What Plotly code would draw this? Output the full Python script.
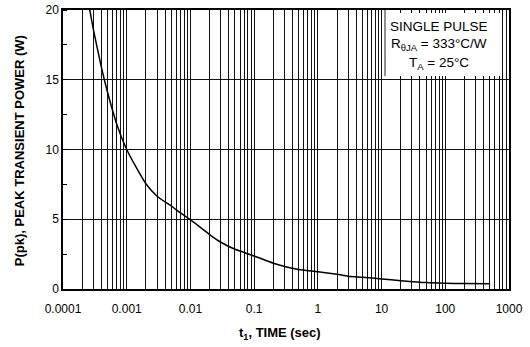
import plotly.graph_objects as go

# Data
time_s = [0.00024, 0.0003, 0.0004, 0.0005, 0.0007, 0.001, 0.0015, 0.002, 0.003,
          0.005, 0.007, 0.01, 0.015, 0.02, 0.03, 0.05, 0.1, 0.2, 0.3, 0.5,
          1, 2, 3, 5, 10, 20, 50, 100, 200, 500]
peak_power_w = [21.0, 18.6, 15.9, 14.1, 11.8, 10.0, 8.5, 7.55, 6.65,
                5.95, 5.45, 4.95, 4.35, 3.9, 3.35, 2.85, 2.37, 1.85, 1.62, 1.4,
                1.24, 1.05, 0.92, 0.84, 0.72, 0.6, 0.46, 0.41, 0.39, 0.38]

x_tickvals = [0.0001, 0.001, 0.01, 0.1, 1, 10, 100, 1000]
x_ticktext = ["0.0001", "0.001", "0.01", "0.1", "1", "10", "100", "1000"]
y_tickvals = [0, 5, 10, 15, 20]

x_title = "<b>t<sub>1</sub>, TIME (sec)</b>"
y_title = "<b>P(pk), PEAK TRANSIENT POWER (W)</b>"
legend_lines = ["SINGLE PULSE", "R<sub>θJA</sub> = 333°C/W", "T<sub>A</sub> = 25°C"]

FONT = "Arial, Liberation Sans, sans-serif"

fig = go.Figure()
fig.add_trace(go.Scatter(
    x=time_s, y=peak_power_w, mode="lines",
    line=dict(color="black", width=1.5, shape="spline", smoothing=0.6),
    showlegend=False, hoverinfo="skip",
))

fig.update_layout(
    width=530, height=347,
    margin=dict(l=63, r=21, t=10, b=58),
    paper_bgcolor="white", plot_bgcolor="white",
    font=dict(family=FONT, size=12, color="black"),
    showlegend=False,
)

fig.update_xaxes(
    type="log", range=[-4, 3], automargin=False,
    tickvals=x_tickvals, ticktext=x_ticktext,
    ticks="", showgrid=True, gridcolor="#111", gridwidth=1,
    minor=dict(dtick="D1", showgrid=True, gridcolor="#111", gridwidth=1, ticks=""),
    showline=True, linecolor="black", linewidth=1.5, mirror=True,
    zeroline=False,
    tickfont=dict(size=12, family=FONT),
    ticklabelstandoff=8,
)

fig.update_yaxes(
    range=[0, 20], tickvals=y_tickvals, automargin=False,
    ticks="", showgrid=True, gridcolor="#111", gridwidth=1,
    minor=dict(dtick=2.5, ticks="inside", ticklen=4, tickcolor="black", showgrid=False),
    showline=True, linecolor="black", linewidth=1.5, mirror=True,
    zeroline=False,
    tickfont=dict(size=12, family=FONT),
    ticklabelstandoff=0,
)

# Axis titles
fig.add_annotation(text=x_title, xref="paper", yref="paper", x=0.487, y=-0.158,
                   showarrow=False, xanchor="center", yanchor="middle",
                   font=dict(size=13, family=FONT, color="black"))
fig.add_annotation(text=y_title, xref="paper", yref="paper", x=-0.0957, y=0.495,
                   showarrow=False, xanchor="center", yanchor="middle", textangle=-90,
                   font=dict(size=13, family=FONT, color="black"))

# White legend box in the upper-right corner
fig.add_shape(type="rect", xref="paper", yref="paper",
              x0=0.722, x1=0.984, y0=0.763, y1=0.989,
              fillcolor="white", line=dict(width=0), layer="above")
fig.add_shape(type="line", xref="paper", yref="paper",
              x0=0.722, x1=0.722, y0=0.763, y1=1.0,
              line=dict(color="#222", width=1), layer="above")

for txt, yp in zip(legend_lines, [0.942, 0.877, 0.808]):
    fig.add_annotation(text=txt, xref="paper", yref="paper", x=0.843, y=yp,
                       showarrow=False, xanchor="center", yanchor="middle",
                       font=dict(size=13.5, family=FONT, color="black"))

fig.write_html("out.html", config={"displayModeBar": False},
               post_script="document.body.style.margin='0';")
